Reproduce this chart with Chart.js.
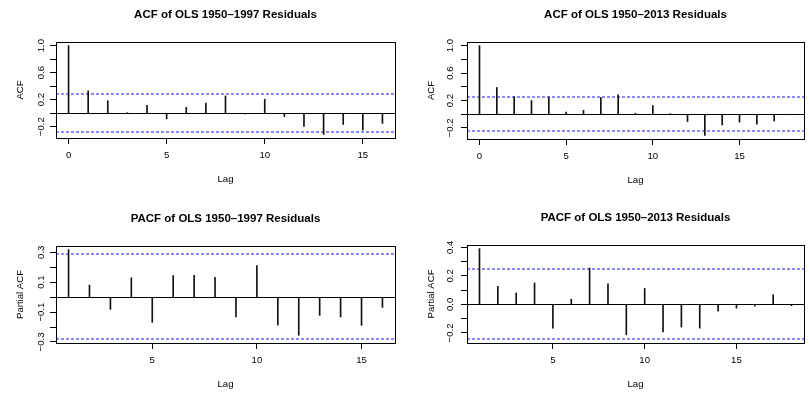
<!DOCTYPE html>
<html><head><meta charset="utf-8">
<script src="https://cdn.jsdelivr.net/npm/chart.js@4.4.0/dist/chart.umd.min.js"></script>
<style>
html,body{margin:0;padding:0;background:#fff;}
#wrap{position:relative;width:809px;height:397px;overflow:hidden;background:#fff}
canvas{position:absolute}
</style></head><body><div id="wrap"></div>
<script>
// ---- data ----
const acf97Lags = [0,1,2,3,4,5,6,7,8,9,10,11,12,13,14,15,16];
const acf97 = [1.0,0.33,0.184,0.005,0.115,-0.085,0.085,0.15,0.255,-0.01,0.206,-0.05,-0.196,-0.315,-0.167,-0.25,-0.152];
const acf13Lags = [0,1,2,3,4,5,6,7,8,9,10,11,12,13,14,15,16,17,18];
const acf13 = [1.0,0.39,0.255,0.20,0.25,0.03,0.058,0.245,0.284,0.015,0.128,0.008,-0.106,-0.308,-0.156,-0.114,-0.145,-0.098,-0.006];
const pacf97Lags = [1,2,3,4,5,6,7,8,9,10,11,12,13,14,15,16];
const pacf97 = [0.318,0.08,-0.082,0.129,-0.169,0.144,0.146,0.133,-0.133,0.211,-0.187,-0.255,-0.122,-0.133,-0.189,-0.069];
const pacf13Lags = [1,2,3,4,5,6,7,8,9,10,11,12,13,14,15,16,17,18];
const pacf13 = [0.391,0.127,0.08,0.15,-0.166,0.037,0.255,0.145,-0.213,0.112,-0.192,-0.159,-0.166,-0.047,-0.026,-0.012,0.068,-0.009];
const clim97 = 0.283;
const clim13 = 0.245;

// ---- tick values / labels ----
const acfXTicks = [0,5,10,15];
const pacfXTicks = [5,10,15];
const acfYTicks = [-0.2,0,0.2,0.4,0.6,0.8,1.0];
const acfYLabels = ['\u22120.2','','0.2','','0.6','','1.0'];
const pacf97YTicks = [-0.3,-0.2,-0.1,0,0.1,0.2,0.3];
const pacf97YLabels = ['\u22120.3','','\u22120.1','','0.1','','0.3'];
const pacf13YTicks = [-0.2,-0.1,0,0.1,0.2,0.3,0.4];
const pacf13YLabels = ['\u22120.2','','0.0','','0.2','','0.4'];

const FONT = "'Liberation Sans', Arial, Helvetica, sans-serif";
const wrap = document.getElementById('wrap');

function makePanel(cfg) {
  const c = document.createElement('canvas');
  c.width = cfg.w; c.height = cfg.h;
  c.style.left = cfg.x + 'px'; c.style.top = cfg.y + 'px';
  c.style.width = cfg.w + 'px'; c.style.height = cfg.h + 'px';
  wrap.appendChild(c);
  const {L, R, T, B} = cfg.box;
  const lo = Math.min(-cfg.clim, ...cfg.values), hi = Math.max(cfg.clim, ...cfg.values);
  const yr = hi - lo;
  const ymin = lo - 0.04 * yr, ymax = hi + 0.04 * yr;
  const xlo = Math.min(...cfg.lags), xhi = Math.max(...cfg.lags), xr = xhi - xlo;
  const xmin = xlo - 0.04 * xr, xmax = xhi + 0.04 * xr;
  const baseSize = 9.6, titleSize = 11.5;
  const lhBase = baseSize * 1.2, lhTitle = titleSize * 1.2;
  const tPadTop = (T - 26.7) - lhTitle / 2;
  const tPadBottom = T - tPadTop - lhTitle;
  const xTitlePadBottom = cfg.h - (B + 41.5) - lhBase / 2;
  const yTitlePadTop = (L - 36) - lhBase / 2;
  const hline = (v, color, dash, width, snap) => ({
    type: 'line', data: [{x: xmin, y: v}, {x: xmax, y: v}], snap: snap,
    borderColor: color, borderWidth: width, borderDash: dash, borderCapStyle: 'butt',
    pointRadius: 0, fill: false
  });
  new Chart(c, {
    type: 'bar',
    data: { datasets: [
      { type: 'bar', data: cfg.lags.map((l, i) => ({x: l, y: cfg.values[i]})),
        backgroundColor: '#111', barThickness: 1, borderWidth: 0 },
      hline(0, '#000', [], 1, 0.5),
      hline(cfg.clim, 'rgb(25,25,255)', [3, 2], 1.2, 0),
      hline(-cfg.clim, 'rgb(25,25,255)', [3, 2], 1.2, 0)
    ]},
    options: {
      responsive: false, animation: false, devicePixelRatio: 1,
      layout: { padding: { left: 0, right: cfg.w - R, top: 0, bottom: 0 } },
      plugins: {
        legend: { display: false }, tooltip: { enabled: false },
        title: { display: true, text: cfg.title, fullSize: false, color: '#000',
          font: { family: FONT, size: titleSize, weight: 'bold', lineHeight: 1.2 },
          padding: { top: tPadTop, bottom: tPadBottom } }
      },
      scales: {
        x: { type: 'linear', min: xmin, max: xmax, offset: false,
          afterBuildTicks: s => { s.ticks = cfg.xTicks.map(v => ({value: v})); },
          afterFit: s => { s.height = cfg.h - B; },
          grid: { display: true, drawOnChartArea: false, drawTicks: true, tickLength: 6, color: '#000', offset: false },
          border: { display: true, color: '#000' },
          ticks: { color: '#000', font: { family: FONT, size: baseSize }, padding: 5.9, maxRotation: 0, autoSkip: false,
            callback: v => String(v) },
          title: { display: true, text: 'Lag', color: '#000', font: { family: FONT, size: baseSize, lineHeight: 1.2 },
            padding: { top: 0, bottom: xTitlePadBottom } } },
        y: { type: 'linear', min: ymin, max: ymax,
          afterBuildTicks: s => { s.ticks = cfg.yTicks.map(v => ({value: v})); },
          afterFit: s => { s.width = L; },
          grid: { display: true, drawOnChartArea: false, drawTicks: true, tickLength: 6, color: '#000' },
          border: { display: true, color: '#000' },
          ticks: { display: false },
          title: { display: true, text: cfg.yTitle, color: '#000', font: { family: FONT, size: baseSize, lineHeight: 1.2 },
            padding: { top: yTitlePadTop, bottom: 0 } } }
      }
    },
    plugins: [{
      id: 'rstyle',
      beforeDatasetDraw(chart, args) {
        const ds = chart.data.datasets[args.index];
        if (ds.snap === undefined) return;
        const y = args.meta.data[0].y;
        const off = (Math.floor(y) + ds.snap) - y;
        chart.ctx.save();
        chart.ctx.translate(0, off);
      },
      afterDatasetDraw(chart, args) {
        const ds = chart.data.datasets[args.index];
        if (ds.snap === undefined) return;
        chart.ctx.restore();
      },
      afterDraw(chart) {
        const ctx = chart.ctx, ys = chart.scales.y, ca = chart.chartArea;
        ctx.save();
        ctx.font = baseSize + 'px ' + FONT;
        ctx.fillStyle = '#000'; ctx.textAlign = 'center'; ctx.textBaseline = 'middle';
        cfg.yTicks.forEach((v, i) => {
          const lab = cfg.yLabels[i];
          if (!lab) return;
          const y = ys.getPixelForValue(v);
          ctx.save(); ctx.translate(ca.left - cfg.yLabGap, y); ctx.rotate(-Math.PI / 2);
          ctx.fillText(lab, 0, 0); ctx.restore();
        });
        ctx.strokeStyle = '#000'; ctx.lineWidth = 1;
        ctx.strokeRect(Math.round(ca.left) + 0.5, Math.round(ca.top) + 0.5,
          Math.round(ca.right) - Math.round(ca.left), Math.round(ca.bottom) - Math.round(ca.top));
        ctx.restore();
      }
    }]
  });
}

makePanel({ x: 0, y: 0, w: 404, h: 198, box: {L: 56, R: 395, T: 42, B: 138},
  lags: acf97Lags, values: acf97, clim: clim97, xTicks: acfXTicks, yTicks: acfYTicks, yLabels: acfYLabels,
  title: 'ACF of OLS 1950\u20131997 Residuals', yTitle: 'ACF', yLabGap: 15 });
makePanel({ x: 404, y: 0, w: 405, h: 198, box: {L: 63, R: 400, T: 42, B: 139},
  lags: acf13Lags, values: acf13, clim: clim13, xTicks: acfXTicks, yTicks: acfYTicks, yLabels: acfYLabels,
  title: 'ACF of OLS 1950\u20132013 Residuals', yTitle: 'ACF', yLabGap: 16.5 });
makePanel({ x: 0, y: 198, w: 404, h: 199, box: {L: 56, R: 395, T: 48, B: 145},
  lags: pacf97Lags, values: pacf97, clim: clim97, xTicks: pacfXTicks, yTicks: pacf97YTicks, yLabels: pacf97YLabels,
  title: 'PACF of OLS 1950\u20131997 Residuals', yTitle: 'Partial ACF', yLabGap: 15 });
makePanel({ x: 404, y: 198, w: 405, h: 199, box: {L: 63, R: 400, T: 47, B: 145},
  lags: pacf13Lags, values: pacf13, clim: clim13, xTicks: pacfXTicks, yTicks: pacf13YTicks, yLabels: pacf13YLabels,
  title: 'PACF of OLS 1950\u20132013 Residuals', yTitle: 'Partial ACF', yLabGap: 16.5 });
</script></body></html>
